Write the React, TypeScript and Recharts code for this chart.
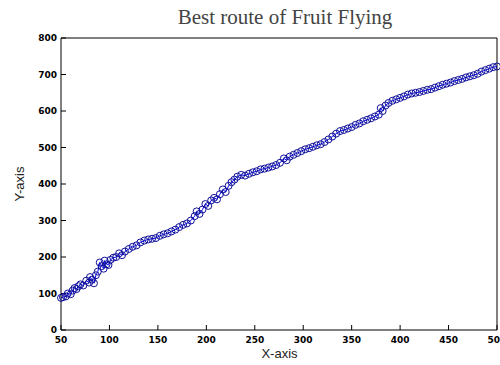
import React from "react";
import { LineChart, Line, XAxis, YAxis } from "recharts";

// ruta del mejor vuelo
const routeX = [
  50, 52, 55, 57, 60, 62, 64, 66, 68, 70, 73, 76, 79, 80, 82, 84, 86, 88, 90, 92,
  94, 95, 97, 99, 101, 104, 107, 110, 113, 116, 120, 124, 128, 132, 136, 140, 144, 148, 152, 156,
  160, 164, 168, 172, 176, 180, 184, 188, 190, 193, 196, 199, 202, 205, 208, 211, 214, 217, 220, 223,
  226, 229, 232, 236, 240, 244, 248, 252, 256, 260, 264, 268, 272, 276, 280, 283, 286, 290, 294, 298,
  302, 306, 310, 314, 318, 322, 326, 330, 334, 338, 342, 346, 350, 354, 358, 362, 366, 370, 374, 378,
  380, 382, 385, 388, 392, 396, 400, 404, 408, 412, 416, 420, 424, 428, 432, 436, 440, 444, 448, 452,
  456, 460, 464, 468, 472, 476, 480, 484, 488, 492, 496, 500,
];
const routeY = [
  88, 90, 92, 100, 98, 108, 115, 112, 120, 125, 122, 135, 130, 145, 138, 128, 150, 160, 185, 175,
  168, 190, 180, 178, 192, 198, 200, 210, 205, 215, 222, 228, 232, 240, 245, 248, 250, 252, 258, 262,
  265, 270, 275, 282, 288, 292, 300, 312, 325, 318, 330, 345, 340, 355, 362, 358, 372, 385, 378, 395,
  405, 412, 420, 425, 423, 428, 432, 435, 440, 442, 445, 448, 452, 458, 470, 465, 475, 480, 485, 490,
  495, 498, 502, 506, 509, 515, 522, 530, 538, 545, 548, 552, 556, 562, 566, 572, 576, 580, 585, 590,
  608, 600, 615, 622, 628, 632, 636, 640, 645, 648, 650, 652, 655, 658, 660, 664, 668, 672, 675, 678,
  682, 685, 688, 692, 695, 698, 702, 708, 712, 716, 720, 722,
];
const xTicks = [50, 100, 150, 200, 250, 300, 350, 400, 450, 500];
const yTicks = [0, 100, 200, 300, 400, 500, 600, 700, 800];

const data = routeX.map((x, i) => ({ x, y: routeY[i] }));

const tickStyle = { fontFamily: "DejaVu Sans", fontSize: 9, fontWeight: "bold", fill: "#000" };

export default function App() {
  return (
    <div style={{ position: "absolute", left: 0, top: 0, width: 500, height: 365, background: "#fff" }}>
      <div
        style={{
          position: "absolute", left: 0, width: 570, top: 5, textAlign: "center",
          fontFamily: "Liberation Serif", fontSize: 21, color: "#444",
        }}
      >
        Best route of Fruit Flying
      </div>
      <div
        style={{
          position: "absolute", left: 0, width: 559, top: 346, textAlign: "center",
          fontFamily: "Liberation Sans", fontSize: 13, color: "#222",
        }}
      >
        X-axis
      </div>
      <div
        style={{
          position: "absolute", left: 19, top: 184, transform: "translate(-50%, -50%) rotate(-90deg)",
          fontFamily: "Liberation Sans", fontSize: 13, color: "#222", whiteSpace: "nowrap",
        }}
      >
        Y-axis
      </div>
      <LineChart width={500} height={365} data={data} margin={{ top: 37, right: 2, bottom: 0, left: 0 }}>
        <XAxis
          dataKey="x" type="number" domain={[50, 500]} ticks={xTicks} interval={0}
          height={35} stroke="#000" tickSize={-5} tickMargin={12} tick={tickStyle}
        />
        <XAxis
          xAxisId="top" dataKey="x" orientation="top" type="number" domain={[50, 500]} ticks={xTicks}
          interval={0} height={1} stroke="#000" tickSize={-5} tick={false}
        />
        <YAxis
          type="number" domain={[0, 800]} ticks={yTicks} interval={0}
          width={61} stroke="#000" tickSize={-5} tickMargin={9} tick={tickStyle}
        />
        <YAxis
          yAxisId="right" orientation="right" type="number" domain={[0, 800]} ticks={yTicks}
          interval={0} width={1} stroke="#000" tickSize={-5} tick={false}
        />
        <Line
          xAxisId="top" yAxisId="right" dataKey="y" stroke="none" dot={false} activeDot={false}
          isAnimationActive={false}
        />
        <Line
          dataKey="y" type="linear" stroke="#0000ff" strokeWidth={1}
          dot={{ r: 3.5, stroke: "#10109a", strokeWidth: 1, fill: "none" }}
          isAnimationActive={false}
        />
      </LineChart>
    </div>
  );
}
